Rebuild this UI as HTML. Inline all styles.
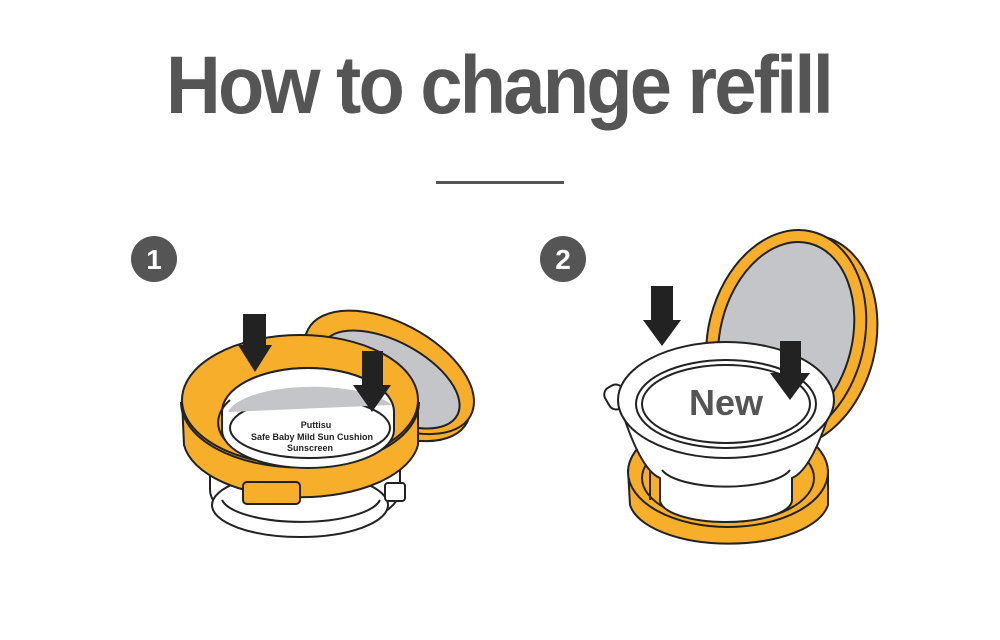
<!DOCTYPE html>
<html><head><meta charset="utf-8"><style>
html,body{margin:0;padding:0;background:#fff;width:1000px;height:640px;overflow:hidden}
svg{display:block}
</style></head><body>
<svg width="1000" height="640" viewBox="0 0 1000 640" xmlns="http://www.w3.org/2000/svg">
<text x="166" y="113" font-family="Liberation Sans, sans-serif" font-weight="bold" font-size="82" fill="#555" textLength="665" lengthAdjust="spacingAndGlyphs" letter-spacing="-3">How to change refill</text>
<rect x="436" y="181" width="128" height="3" fill="#555"/>
<circle cx="154" cy="259" r="23" fill="#555"/>
<text x="154" y="269" text-anchor="middle" font-family="Liberation Sans, sans-serif" font-weight="bold" font-size="28" fill="#fff">1</text>
<circle cx="563" cy="259" r="23" fill="#555"/>
<text x="563" y="269" text-anchor="middle" font-family="Liberation Sans, sans-serif" font-weight="bold" font-size="28" fill="#fff">2</text>

<g stroke="#222" stroke-width="2" stroke-linejoin="round">
<!-- Illustration 1 -->
<!-- lid back -->
<g transform="rotate(28 388 375)">
<ellipse cx="388" cy="380" rx="92" ry="50" fill="#F7AE2A"/>
<ellipse cx="388" cy="372" rx="92" ry="50" fill="#F7AE2A"/>
<ellipse cx="392" cy="378" rx="76" ry="38" fill="#c4c5c8"/>
</g>
<!-- base white -->
<path d="M210 470 L210 490 A95 40 0 0 0 400 490 L400 470 Z" fill="#fff"/>
<ellipse cx="300" cy="505" rx="88" ry="32" fill="#fff"/>
<path d="M222 500 A80 26 0 0 0 380 500" fill="none"/>
<rect x="385" y="483" width="20" height="18" rx="3" fill="#fff"/>
<!-- main ring -->
<path d="M182 400 L184 445 A118 60 0 0 0 418 445 L418 400 Z" fill="#F7AE2A"/>
<ellipse cx="300" cy="400" rx="118" ry="65" fill="#F7AE2A"/>
<path d="M181 402 A118 65 0 0 0 419 402" fill="none"/>
<ellipse cx="308" cy="412" rx="86" ry="44" fill="#F7AE2A"/>
<path d="M222 412 A86 44 0 0 1 394 412 L394 430 A86 38 0 0 1 222 430 Z" fill="#fff"/>
<ellipse cx="310" cy="428" rx="80" ry="30" fill="#fff"/>
<path d="M228 412 A86 30 0 0 1 392 405" fill="#c4c5c8" stroke="none"/>
<path d="M225 440 A84 44 0 0 1 230 400" fill="none"/>
<rect x="243" y="482" width="57" height="22" rx="4" fill="#F7AE2A"/>
</g>
<text x="316" y="428" text-anchor="middle" font-family="Liberation Sans, sans-serif" font-weight="bold" font-size="9" fill="#222">Puttisu</text>
<text x="312" y="440" text-anchor="middle" font-family="Liberation Sans, sans-serif" font-weight="bold" font-size="9" fill="#222">Safe Baby Mild Sun Cushion</text>
<text x="310" y="451" text-anchor="middle" font-family="Liberation Sans, sans-serif" font-weight="bold" font-size="9" fill="#222">Sunscreen</text>
<!-- arrows 1 -->
<path d="M243 314 H266 V345 H272 L255 372 L238 345 H243 Z" fill="#222"/>
<path d="M362 351 H383 V385 H391 L372 412 L353 385 H362 Z" fill="#222"/>

<!-- Illustration 2 -->
<g stroke="#222" stroke-width="2" stroke-linejoin="round">
<!-- lid upright -->
<g transform="rotate(14 792 338)">
<ellipse cx="798" cy="340" rx="78" ry="108" fill="#F7AE2A"/>
<ellipse cx="786" cy="338" rx="78" ry="108" fill="#F7AE2A"/>
<ellipse cx="786" cy="338" rx="66" ry="96" fill="#c4c5c8"/>
</g>
<!-- base orange -->
<path d="M628 470 L630 505 A100 45 0 0 0 828 505 L828 470 Z" fill="#F7AE2A"/>
<ellipse cx="728" cy="472" rx="100" ry="55" fill="#F7AE2A"/>
<ellipse cx="728" cy="478" rx="86" ry="44" fill="#F7AE2A"/>
<path d="M650 500 L650 470" fill="none"/>
<!-- refill bowl -->
<path d="M620 405 Q640 470 660 478 L660 500 A66 22 0 0 0 792 500 L792 478 Q812 470 832 405 Z" fill="#fff"/>
<path d="M662 470 A66 22 0 0 0 790 470" fill="none"/>
<rect x="606" y="385" width="20" height="24" rx="8" fill="#fff" transform="rotate(-30 616 397)"/>
<ellipse cx="726" cy="400" rx="108" ry="58" fill="#fff"/>
<ellipse cx="726" cy="404" rx="90" ry="44" fill="#fff"/>
<ellipse cx="726" cy="404" rx="84" ry="39" fill="#fff"/>
</g>
<text x="726" y="415" text-anchor="middle" font-family="Liberation Sans, sans-serif" font-weight="bold" font-size="36" fill="#555">New</text>
<path d="M651 286 H673 V320 H681 L662 346 L643 320 H651 Z" fill="#222"/>
<path d="M780 341 H801 V373 H810 L790 400 L770 373 H780 Z" fill="#222"/>
</svg>
</body></html>
